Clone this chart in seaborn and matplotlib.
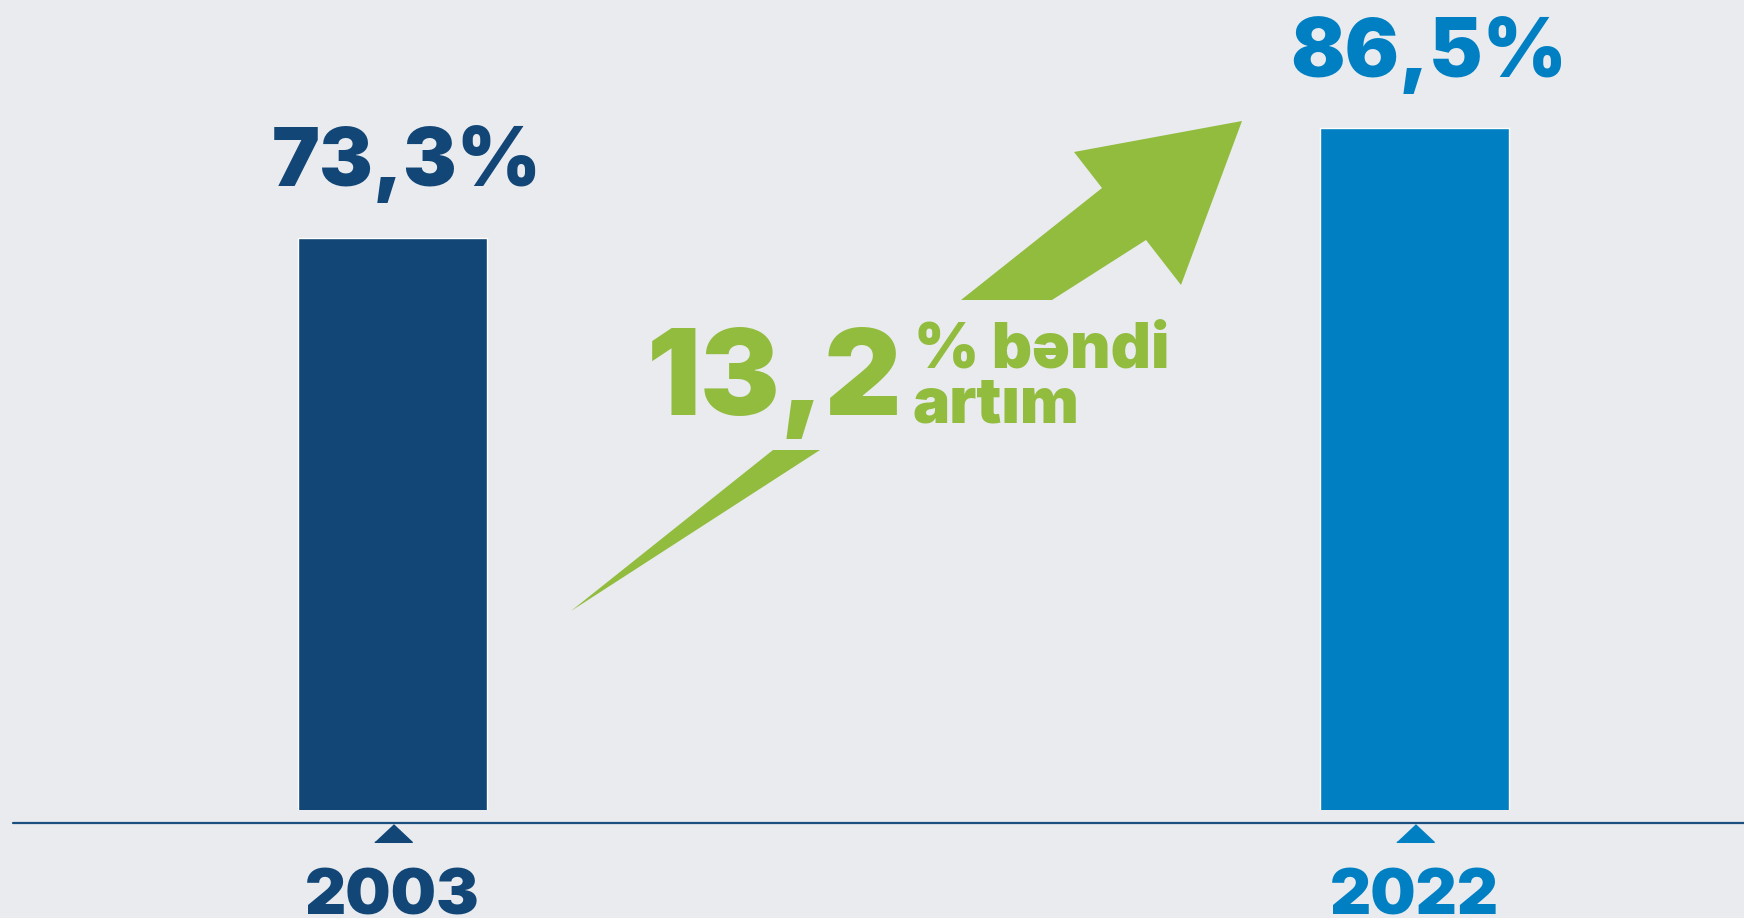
import matplotlib.pyplot as plt
import seaborn as sns
import pandas as pd
from matplotlib.patches import Polygon
from matplotlib.lines import Line2D

# Data
years = ["2003", "2022"]
shares = [73.3, 86.5]
growth = 13.2
growth_text = ["% bəndi", "artım"]

bar_colors = ["#114676", "#0080C3"]
green = "#92BC3E"
bg = "#E9EBEF"

W, H = 1744, 918

sns.set_theme(style="white")
plt.rcParams["font.family"] = ["Inter", "DejaVu Sans"]


def fig_xy(px, py):
    # pixel position (from top-left) -> figure fraction
    return px / W, 1 - py / H


def main():
    fig = plt.figure(figsize=(W / 100, H / 100), dpi=100, facecolor=bg)
    ax = fig.add_axes([0, (H - 810) / H, 1, 810 / H])
    ax.set_facecolor(bg)

    df = pd.DataFrame({"year": years, "share": shares})
    sns.barplot(
        data=df, x="year", y="share", hue="year", palette=bar_colors,
        width=0.185, legend=False, saturation=1, ax=ax,
    )
    ax.set_xlim(-0.384, 1.322)
    ax.set_ylim(4.5, 101.9)
    for s in ax.spines.values():
        s.set_visible(False)
    ax.set_yticks([])
    ax.set_xlabel("")
    ax.set_ylabel("")
    ax.tick_params(axis="x", length=0, pad=42)
    for lbl, c in zip(ax.get_xticklabels(), bar_colors):
        lbl.set_color(c)
        lbl.set_fontsize(46)
        lbl.set_fontweight("black")

    # value labels above bars
    for i, (v, c) in enumerate(zip(shares, bar_colors)):
        ax.annotate(
            f"{v:.1f}".replace(".", ",") + "%", xy=(i, v), xytext=(10, 37),
            textcoords="offset points", ha="center", va="baseline",
            fontsize=58, fontweight="black", color=c,
        )

    # baseline and small markers
    fig.add_artist(Line2D([13 / W, 1], [1 - 823 / H] * 2, color="#1B4F80", lw=1.6))
    tri = [(-1, -0.47), (1, -0.47), (0, 0.47)]
    for i, c in enumerate(bar_colors):
        ax.plot(i, (810 - 833) / 810, marker=tri, markersize=27, color=c,
                transform=ax.get_xaxis_transform(), clip_on=False)

    # green growth arrow (two pieces)
    lower = [(571, 611), (773, 450), (820, 450)]
    upper = [(961, 300), (1102, 188), (1074, 152), (1242, 121),
             (1181, 285), (1146, 240), (1052, 300)]
    for pts in (lower, upper):
        fig.add_artist(Polygon([fig_xy(*p) for p in pts], closed=True,
                               transform=fig.transFigure, color=green, lw=0))

    fig.text(*fig_xy(647, 415), f"{growth:.1f}".replace(".", ","), ha="left",
             va="baseline", fontsize=86, fontweight="black", color=green)
    fig.text(*fig_xy(914, 367), growth_text[0], ha="left", va="baseline",
             fontsize=45, fontweight="black", color=green)
    fig.text(*fig_xy(912, 423), growth_text[1], ha="left", va="baseline",
             fontsize=45, fontweight="black", color=green)

    fig.savefig("out.png", dpi=100, facecolor=bg)


if __name__ == "__main__":
    main()
